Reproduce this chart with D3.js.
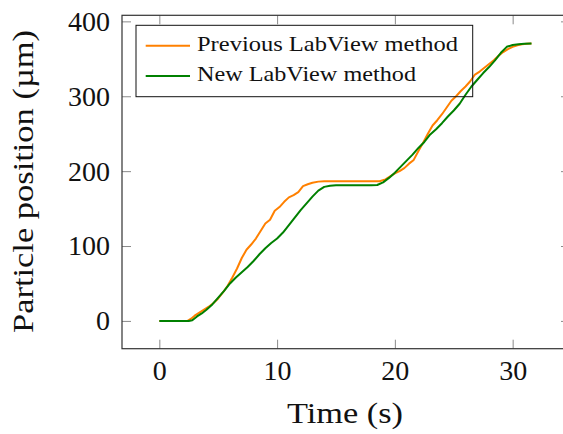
<!DOCTYPE html>
<html>
<head>
<meta charset="utf-8">
<script src="https://cdn.jsdelivr.net/npm/d3@7"></script>
<style>
  html, body { margin: 0; padding: 0; background: #fff; }
  svg { display: block; }
  text { font-family: "Liberation Serif", "Times New Roman", serif; fill: #111; }
</style>
</head>
<body>
<div id="chart"></div>
<script>
// ---- Data ----
const seriesNames = ["Previous LabView method", "New LabView method"];
const seriesColors = ["#ff8000", "#008000"];

const prevTime = [0, 2.4, 2.7, 3.0, 3.4, 3.8, 4.2, 4.6, 5.0, 5.4, 5.8, 6.2, 6.6, 7.0, 7.4, 7.8, 8.2, 8.6, 9.0, 9.4, 9.8, 10.2, 10.6, 11.0, 11.4, 11.8, 12.2, 12.6, 13.0, 13.5, 14.0, 15, 16, 17, 18, 18.7, 19.2, 19.6, 20.0, 20.4, 20.8, 21.2, 21.6, 22.0, 22.4, 22.8, 23.2, 23.6, 24.0, 24.4, 24.8, 25.2, 25.6, 26.0, 26.4, 26.8, 27.2, 27.6, 28.0, 28.4, 28.8, 29.2, 29.6, 30.0, 30.4, 30.8, 31.2, 31.6];
const prevPos  = [0, 0, 3, 7, 11, 15, 19, 24, 30, 38, 47, 58, 70, 84, 95, 102, 110, 120, 130, 135, 147, 152, 159, 165, 168, 172, 180, 182.5, 184.5, 186, 186.5, 186.5, 186.5, 186.5, 186.5, 186.5, 189, 193, 197, 200, 204, 210, 215, 227, 238, 250, 261, 268, 276, 285, 294, 300, 307, 313, 320, 329, 333, 338, 343, 348, 354, 359, 363, 366, 368, 369.5, 370, 370.5];

const newTime = [0, 2.5, 2.8, 3.2, 3.6, 4.0, 4.5, 5.0, 5.5, 6.0, 6.5, 7.0, 7.5, 8.0, 8.5, 9.0, 9.5, 10.0, 10.5, 11.0, 11.5, 12.0, 12.5, 13.0, 13.5, 14.0, 14.5, 15, 16, 17, 18, 18.5, 19.0, 19.5, 20.0, 20.5, 21.0, 21.5, 22.0, 22.5, 23.0, 23.5, 24.0, 24.5, 25.0, 25.5, 26.0, 26.5, 27.0, 27.5, 28.0, 28.5, 29.0, 29.5, 30.0, 30.5, 31.0, 31.6];
const newPos  = [0, 0, 1, 6, 10, 15, 22, 31, 40, 50, 58, 65, 72, 80, 89, 97, 104, 110, 118, 128, 138, 148, 157, 166, 174, 179, 180.5, 181, 181, 181, 181, 181.5, 185, 191, 198, 206, 214, 222, 231, 239, 249, 256, 264, 273, 281, 290, 302, 313, 322, 331, 339, 348, 358, 366, 368.5, 369.5, 370, 370.5];

const xTicks = [0, 10, 20, 30];
const yTicks = [0, 100, 200, 300, 400];
const xLabel = "Time (s)";
const yLabel = "Particle position (µm)";

// ---- Layout ----
const W = 563, H = 434;
const L = 122, R = 570, T = 15.3, B = 348.7;
const FONT = '"Liberation Serif", "Times New Roman", serif';

const svg = d3.select("#chart").append("svg").attr("width", W).attr("height", H);

const x = d3.scaleLinear().domain([-3.17, 34.87]).range([L, R]);
const y = d3.scaleLinear().domain([-37.1, 408.1]).range([B, T]);

const series = [
  prevTime.map((t, i) => [t, prevPos[i]]),
  newTime.map((t, i) => [t, newPos[i]])
];

const line = d3.line().x(d => x(d[0])).y(d => y(d[1]));

// Lines
series.forEach((s, i) => {
  svg.append("path").datum(s)
    .attr("d", line)
    .attr("fill", "none")
    .attr("stroke", seriesColors[i])
    .attr("stroke-width", 2)
    .attr("stroke-linejoin", "round");
});

// Axes (ticks inward)
const tickStyle = g => {
  g.attr("font-family", null).attr("font-size", null);
  g.select(".domain").remove();
  g.selectAll(".tick line").attr("stroke", "#8a8a8a").attr("stroke-width", 1);
  g.selectAll(".tick text").style("font-family", FONT).style("font-size", "28px").attr("fill", "#111");
};

svg.append("g").attr("transform", `translate(0,${B})`)
  .call(d3.axisBottom(x).tickValues(xTicks).tickSize(-9).tickSizeOuter(0).tickPadding(11.4).tickFormat(d3.format("d")))
  .call(tickStyle);

svg.append("g").attr("transform", `translate(0,${T})`)
  .call(d3.axisTop(x).tickValues(xTicks).tickSize(-9).tickSizeOuter(0).tickFormat(""))
  .call(tickStyle);

svg.append("g").attr("transform", `translate(${L},0)`)
  .call(d3.axisLeft(y).tickValues(yTicks).tickSize(-9).tickSizeOuter(0).tickPadding(12).tickFormat(d3.format("d")))
  .call(tickStyle);

svg.append("g").attr("transform", `translate(${R},0)`)
  .call(d3.axisRight(y).tickValues(yTicks).tickSize(-9).tickSizeOuter(0).tickFormat(""))
  .call(tickStyle);

// Frame
svg.append("rect")
  .attr("x", L).attr("y", T).attr("width", R - L).attr("height", B - T)
  .attr("fill", "none").attr("stroke", "#333").attr("stroke-width", 1.2);

// Axis labels
svg.append("text")
  .attr("x", 345).attr("y", 423)
  .attr("text-anchor", "middle")
  .style("font-family", FONT).style("font-size", "29px")
  .attr("textLength", 116).attr("lengthAdjust", "spacingAndGlyphs")
  .text(xLabel);

svg.append("text")
  .attr("transform", "translate(33,181.5) rotate(-90)")
  .attr("text-anchor", "middle")
  .style("font-family", FONT).style("font-size", "29px")
  .attr("textLength", 303).attr("lengthAdjust", "spacingAndGlyphs")
  .text(yLabel);

// Legend
const lg = svg.append("g");
lg.append("rect")
  .attr("x", 136).attr("y", 25.3).attr("width", 336.7).attr("height", 71.4)
  .attr("fill", "none").attr("stroke", "#111").attr("stroke-width", 1);
const legendRows = [45.7, 76];
const legendLens = [261, 219];
seriesNames.forEach((name, i) => {
  lg.append("line")
    .attr("x1", 145.7).attr("x2", 190)
    .attr("y1", legendRows[i]).attr("y2", legendRows[i])
    .attr("stroke", seriesColors[i]).attr("stroke-width", 2);
  lg.append("text")
    .attr("x", 197).attr("y", legendRows[i] + 5.3)
    .style("font-family", FONT).style("font-size", "22px")
    .attr("textLength", legendLens[i]).attr("lengthAdjust", "spacingAndGlyphs")
    .text(name);
});
</script>
</body>
</html>
